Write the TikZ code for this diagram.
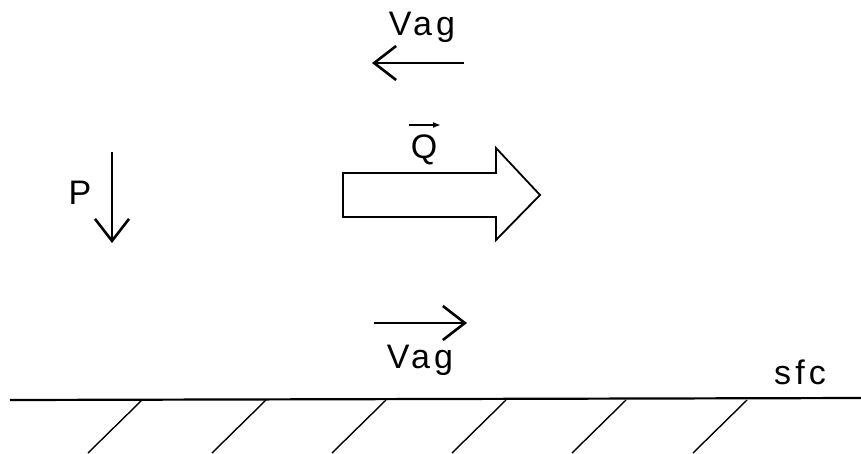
\documentclass[tikz,border=0pt]{standalone}
\usepackage{fontspec}
\setmainfont{Liberation Sans}[LetterSpace=12]
\usepackage{xcolor}
\definecolor{ink}{RGB}{0,0,0}
\usepackage{tikz}
\usetikzlibrary{arrows.meta, positioning}

\begin{document}
\begin{tikzpicture}[
        x=1pt, y=-1pt,
        label/.style={inner sep=0pt, text=ink, font=\fontsize{34}{38}\selectfont},
        force/.style={-{Straight Barb[length=22pt, width=34pt, line width=2.6pt]}, line width=2.4pt, draw=ink},
        vecmark/.style={-{Latex[length=8pt, width=6pt]}, line width=1.6pt, draw=ink},
        bigarrow/.style={draw=ink, line width=1.8pt, fill=white, line join=miter},
        ground/.style={line width=2.2pt, draw=ink},
        hatch/.style={line width=1.4pt, draw=ink}
    ]
        \useasboundingbox (0,0) rectangle (861,453);

        % wind above
        \node[label] (vagtop) at (422,27) {Vag};
        \coordinate (vagtopa) at (464,63);
        \coordinate (vagtopb) at (372,63);
        \draw[force] (vagtopa) -- (vagtopb);

        % pressure
        \node[label] (p) at (80,193) {P};
        \coordinate (pa) at (112,152);
        \coordinate (pb) at (112,243);
        \draw[force] (pa) -- (pb);

        % transport Q
        \node[label] (q) at (424,150) {Q};
        \coordinate (qa) at (409,125);
        \coordinate (qb) at (441,125);
        \draw[vecmark] (qa) -- (qb);
        \draw[bigarrow] (343,173) -- (496,173) -- (496,148) -- (540,195)
            -- (496,240) -- (496,217) -- (343,217) -- cycle;

        % wind below
        \coordinate (vagbota) at (374,323);
        \coordinate (vagbotb) at (467,323);
        \draw[force] (vagbota) -- (vagbotb);
        \node[label] (vagbot) at (420,360) {Vag};

        % surface
        \node[label] (sfc) at (800,372) {sfc};
        \coordinate (gl) at (10,400);
        \coordinate (gr) at (861,398);
        \draw[ground] (gl) -- (gr);
        \foreach \hx in {88,212,332,452,572,693}
            \draw[hatch] (\hx,453) -- ++(54,-53);
    \end{tikzpicture}
\end{document}
